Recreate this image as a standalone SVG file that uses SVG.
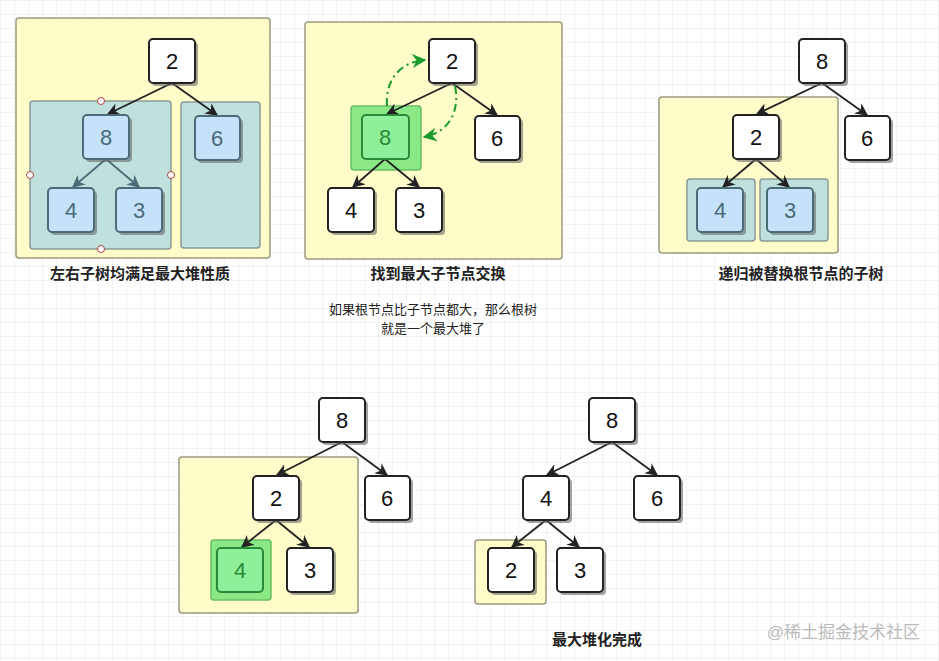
<svg xmlns="http://www.w3.org/2000/svg" width="939" height="661" viewBox="0 0 939 661">
<defs>
<pattern id="grid" width="14" height="14" patternUnits="userSpaceOnUse"><path d="M14 0H0V14" fill="none" stroke="#e8e8e8" stroke-width="1"/></pattern>
<marker id="ah" viewBox="0 0 10 10" refX="9" refY="5" markerWidth="7" markerHeight="7" orient="auto"><path d="M0 0L10 5L0 10L3 5Z" fill="#222"/></marker>
<marker id="ahb" viewBox="0 0 10 10" refX="9" refY="5" markerWidth="7" markerHeight="7" orient="auto"><path d="M0 0L10 5L0 10L3 5Z" fill="#4a6b78"/></marker>
<marker id="ahg" viewBox="0 0 10 10" refX="9" refY="5" markerWidth="7" markerHeight="7" orient="auto"><path d="M0 0L10 5L0 10L3 5Z" fill="#1a9a2a"/></marker>
</defs>
<style>
.y{fill:#fefcc8;stroke:#9a9a80;stroke-width:1.5}
.t{fill:#bfe0dc;stroke:#8a9a98;stroke-width:1.5}
.gh{fill:#7ee87e;stroke:#5ab85a;stroke-width:1.5;opacity:.9}
.sh{fill:#666;opacity:.6}
.n{fill:#fff;stroke:#222;stroke-width:2}
.nb{fill:#c6e2fb;stroke:#4a6b78;stroke-width:2}
.ng{fill:#8ef09a;stroke:#2a8a3a;stroke-width:2}
.l{font-family:"Liberation Sans",Arial,sans-serif;font-size:22px;text-anchor:middle;fill:#111}
.lb{fill:#4a6b78}.lg{fill:#2a8a3a}
.e{stroke:#222;stroke-width:1.8;fill:none;marker-end:url(#ah)}
.eb{stroke:#4a6b78;stroke-width:1.8;fill:none;marker-end:url(#ahb)}
.c{font-family:"Liberation Sans","Noto Sans CJK SC",sans-serif;font-size:15px;font-weight:bold;text-anchor:middle;fill:#222}
.s{font-family:"Liberation Sans","Noto Sans CJK SC",sans-serif;font-size:13px;text-anchor:middle;fill:#222}
.h{fill:#fff;stroke:#b04040;stroke-width:1}
</style>
<rect width="939" height="661" fill="#fff"/>
<rect width="939" height="661" fill="url(#grid)"/>
<g id="containers">
<rect class="y" x="16" y="18" width="254" height="240" rx="3"/>
<rect class="t" x="30" y="101" width="141" height="148" rx="3"/>
<rect class="t" x="181" y="102" width="79" height="146" rx="3"/>
<rect class="y" x="305" y="22" width="257" height="237" rx="3"/>
<rect class="gh" x="351" y="106" width="70" height="64" rx="3"/>
<rect class="y" x="659" y="97" width="179" height="156" rx="3"/>
<rect class="t" x="687" y="179" width="68" height="62" rx="3"/>
<rect class="t" x="760" y="179" width="68" height="62" rx="3"/>
<rect class="y" x="179" y="457" width="179" height="156" rx="3"/>
<rect class="gh" x="211" y="540" width="60" height="60" rx="3"/>
<rect class="y" x="475" y="540" width="71" height="64" rx="3"/>
<circle class="h" cx="101" cy="101" r="3.5"/><circle class="h" cx="30" cy="175" r="3.5"/><circle class="h" cx="171" cy="175" r="3.5"/><circle class="h" cx="101" cy="249" r="3.5"/>
</g>
<g id="connectors">
<path class="e" d="M172 83L108 114"/><path class="e" d="M172 83L217 115"/>
<path class="eb" d="M106 159L73 187"/><path class="eb" d="M106 159L139 187"/>
<path class="e" d="M452 83L387 114"/><path class="e" d="M452 83L497 115"/>
<path class="e" d="M385 159L353 187"/><path class="e" d="M385 159L419 187"/>
<path d="M387 106C385 80 400 62 425 60" stroke="#1a9a2a" stroke-width="2" fill="none" stroke-dasharray="8 4 2 4" marker-end="url(#ahg)"/>
<path d="M455 86C460 110 450 132 424 137" stroke="#1a9a2a" stroke-width="2" fill="none" stroke-dasharray="8 4 2 4" marker-end="url(#ahg)"/>
<path class="e" d="M822 83L757 114"/><path class="e" d="M822 83L867 115"/>
<path class="e" d="M756 159L723 187"/><path class="e" d="M756 159L789 187"/>
<path class="e" d="M342 442L277 475"/><path class="e" d="M342 442L387 475"/>
<path class="e" d="M276 520L242 547"/><path class="e" d="M276 520L309 547"/>
<path class="e" d="M612 442L547 475"/><path class="e" d="M612 442L657 475"/>
<path class="e" d="M546 520L512 547"/><path class="e" d="M546 520L579 547"/>
</g>
<g id="p1">
<g id="n1-2"><rect class="sh" x="152" y="42" width="46" height="44" rx="4"/><rect class="n" x="149" y="39" width="46" height="44" rx="4"/><text class="l" x="172" y="69">2</text></g>
<g id="n1-8"><rect class="sh" x="86" y="118" width="46" height="44" rx="4"/><rect class="nb" x="83" y="115" width="46" height="44" rx="4"/><text class="l lb" x="106" y="145">8</text></g>
<g id="n1-6"><rect class="sh" x="198" y="119" width="45" height="44" rx="4"/><rect class="nb" x="195" y="116" width="45" height="44" rx="4"/><text class="l lb" x="217" y="146">6</text></g>
<g id="n1-4"><rect class="sh" x="51" y="191" width="46" height="44" rx="4"/><rect class="nb" x="48" y="188" width="46" height="44" rx="4"/><text class="l lb" x="71" y="218">4</text></g>
<g id="n1-3"><rect class="sh" x="119" y="191" width="46" height="44" rx="4"/><rect class="nb" x="116" y="188" width="46" height="44" rx="4"/><text class="l lb" x="139" y="218">3</text></g>
<text class="c" x="140" y="279">左右子树均满足最大堆性质</text>
</g>
<g id="p2">
<g id="n2-2"><rect class="sh" x="432" y="42" width="46" height="44" rx="4"/><rect class="n" x="429" y="39" width="46" height="44" rx="4"/><text class="l" x="452" y="69">2</text></g>
<g id="n2-8"><rect class="ng" x="362" y="115" width="47" height="44" rx="4"/><text class="l lg" x="385" y="145">8</text></g>
<g id="n2-6"><rect class="sh" x="478" y="119" width="45" height="44" rx="4"/><rect class="n" x="475" y="116" width="45" height="44" rx="4"/><text class="l" x="497" y="146">6</text></g>
<g id="n2-4"><rect class="sh" x="331" y="191" width="46" height="44" rx="4"/><rect class="n" x="328" y="188" width="46" height="44" rx="4"/><text class="l" x="351" y="218">4</text></g>
<g id="n2-3"><rect class="sh" x="399" y="191" width="46" height="44" rx="4"/><rect class="n" x="396" y="188" width="46" height="44" rx="4"/><text class="l" x="419" y="218">3</text></g>
<text class="c" x="438" y="279">找到最大子节点交换</text>
<text class="s" x="433" y="314">如果根节点比子节点都大，那么根树</text>
<text class="s" x="433" y="333">就是一个最大堆了</text>
</g>
<g id="p3">
<g id="n3-8"><rect class="sh" x="802" y="42" width="46" height="44" rx="4"/><rect class="n" x="799" y="39" width="46" height="44" rx="4"/><text class="l" x="822" y="69">8</text></g>
<g id="n3-2"><rect class="sh" x="736" y="118" width="46" height="44" rx="4"/><rect class="n" x="733" y="115" width="46" height="44" rx="4"/><text class="l" x="756" y="145">2</text></g>
<g id="n3-6"><rect class="sh" x="848" y="119" width="45" height="44" rx="4"/><rect class="n" x="845" y="116" width="45" height="44" rx="4"/><text class="l" x="867" y="146">6</text></g>
<g id="n3-4"><rect class="sh" x="700" y="191" width="46" height="44" rx="4"/><rect class="nb" x="697" y="188" width="46" height="44" rx="4"/><text class="l lb" x="720" y="218">4</text></g>
<g id="n3-3"><rect class="sh" x="770" y="191" width="46" height="44" rx="4"/><rect class="nb" x="767" y="188" width="46" height="44" rx="4"/><text class="l lb" x="790" y="218">3</text></g>
<text class="c" x="801" y="279">递归被替换根节点的子树</text>
</g>
<g id="p4">
<g id="n4-8"><rect class="sh" x="322" y="401" width="46" height="44" rx="4"/><rect class="n" x="319" y="398" width="46" height="44" rx="4"/><text class="l" x="342" y="428">8</text></g>
<g id="n4-2"><rect class="sh" x="256" y="479" width="46" height="44" rx="4"/><rect class="n" x="253" y="476" width="46" height="44" rx="4"/><text class="l" x="276" y="506">2</text></g>
<g id="n4-6"><rect class="sh" x="368" y="479" width="45" height="44" rx="4"/><rect class="n" x="365" y="476" width="45" height="44" rx="4"/><text class="l" x="387" y="506">6</text></g>
<g id="n4-4"><rect class="ng" x="217" y="548" width="46" height="44" rx="4"/><text class="l lg" x="240" y="578">4</text></g>
<g id="n4-3"><rect class="sh" x="290" y="551" width="46" height="44" rx="4"/><rect class="n" x="287" y="548" width="46" height="44" rx="4"/><text class="l" x="310" y="578">3</text></g>
</g>
<g id="p5">
<g id="n5-8"><rect class="sh" x="592" y="401" width="46" height="44" rx="4"/><rect class="n" x="589" y="398" width="46" height="44" rx="4"/><text class="l" x="612" y="428">8</text></g>
<g id="n5-4"><rect class="sh" x="526" y="479" width="46" height="44" rx="4"/><rect class="n" x="523" y="476" width="46" height="44" rx="4"/><text class="l" x="546" y="506">4</text></g>
<g id="n5-6"><rect class="sh" x="637" y="479" width="46" height="44" rx="4"/><rect class="n" x="634" y="476" width="46" height="44" rx="4"/><text class="l" x="657" y="506">6</text></g>
<g id="n5-2"><rect class="sh" x="491" y="551" width="46" height="44" rx="4"/><rect class="n" x="488" y="548" width="46" height="44" rx="4"/><text class="l" x="511" y="578">2</text></g>
<g id="n5-3"><rect class="sh" x="560" y="551" width="46" height="44" rx="4"/><rect class="n" x="557" y="548" width="46" height="44" rx="4"/><text class="l" x="580" y="578">3</text></g>
<text class="c" x="597" y="645">最大堆化完成</text>
</g>
<text x="920" y="638" text-anchor="end" font-family="Liberation Sans,'Noto Sans CJK SC',sans-serif" font-size="17" fill="#bbb">@稀土掘金技术社区</text>
</svg>
